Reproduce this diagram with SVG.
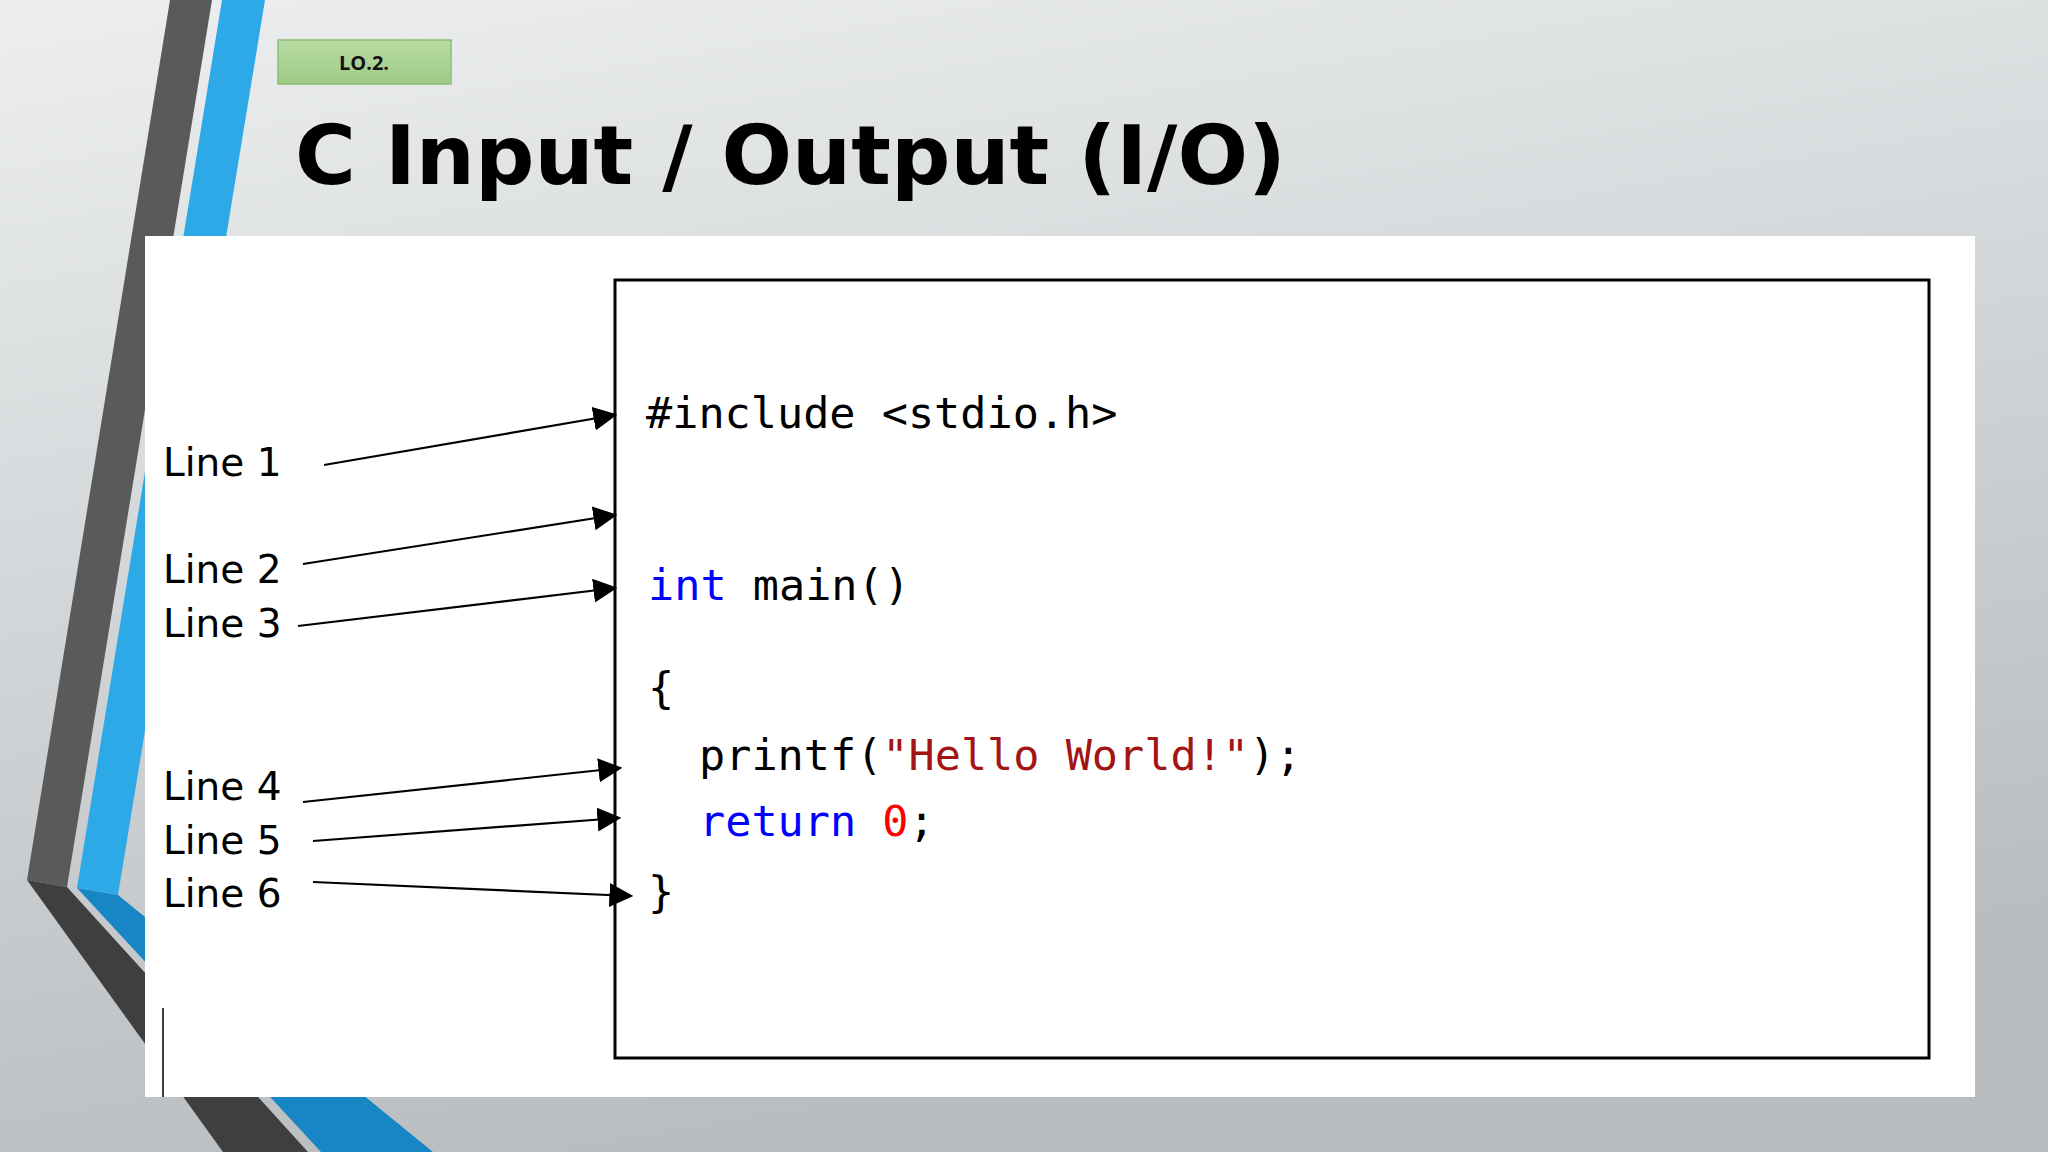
<svg xmlns="http://www.w3.org/2000/svg" width="2048" height="1152" viewBox="0 0 2048 1152">
<defs>
<linearGradient id="bg" x1="0" y1="0" x2="0.3" y2="1"><stop offset="0" stop-color="#eceeef"/><stop offset="1" stop-color="#b9bdc0"/></linearGradient>
<linearGradient id="gr" x1="0" y1="0" x2="0" y2="1"><stop offset="0" stop-color="#b9dba6"/><stop offset="1" stop-color="#9ecb86"/></linearGradient>
<marker id="ah" viewBox="0 0 10 10" refX="9" refY="5" markerWidth="24" markerHeight="24" markerUnits="userSpaceOnUse" orient="auto"><path d="M0,0 L10,5 L0,10 z" fill="#000"/></marker>
<style>
.lbl{font-family:"DejaVu Sans",sans-serif;font-size:39px;fill:#000}
.code{font-family:"DejaVu Sans Mono",monospace;font-size:43.5px;fill:#000;white-space:pre}
.kw{fill:#0000ff}.str{fill:#a31515}.num{fill:#ff0000}
.conn line{stroke:#000;stroke-width:2.2}
</style>
</defs>
<rect width="2048" height="1152" fill="url(#bg)"/>
<g id="decor">
<polygon points="170,0 212,0 67,887 27,880" fill="#5a5a5a"/>
<polygon points="27,880 67,887 308,1152 223,1152" fill="#3f3f3f"/>
<polygon points="222,0 265,0 118,895 77,888" fill="#2ea9e8"/>
<polygon points="77,888 118,895 433,1152 321,1152" fill="#1886c4"/>
</g>
<g id="tag"><rect x="278" y="40" width="173" height="44" fill="url(#gr)" stroke="#8cbf70" stroke-width="1.5"/>
<text x="364" y="70" text-anchor="middle" font-family="'Open Sans','DejaVu Sans',sans-serif" font-weight="bold" font-size="20" fill="#111">LO.2.</text></g>
<text id="title" x="295" y="184" font-family="'DejaVu Sans',sans-serif" font-weight="bold" font-size="82" textLength="991" lengthAdjust="spacingAndGlyphs" fill="#000">C Input / Output (I/O)</text>
<rect x="145" y="236" width="1830" height="861" fill="#fff"/>
<line x1="163" y1="1008" x2="163" y2="1097" stroke="#000" stroke-width="1.5"/>
<g id="codebox">
<rect x="615" y="280" width="1314" height="778" fill="#fff" stroke="#000" stroke-width="3"/>
<text class="code" x="646" y="428">#include &lt;stdio.h&gt;</text>
<text class="code" x="648" y="600"><tspan class="kw">int</tspan> main()</text>
<text class="code" x="648" y="703">{</text>
<text class="code" x="699" y="770">printf(<tspan class="str">"Hello World!"</tspan>);</text>
<text class="code" x="699" y="836"><tspan class="kw">return</tspan> <tspan class="num">0</tspan>;</text>
<text class="code" x="648" y="907">}</text>
</g>
<g id="labels">
<text class="lbl" x="163" y="476">Line 1</text>
<text class="lbl" x="163" y="583">Line 2</text>
<text class="lbl" x="163" y="637">Line 3</text>
<text class="lbl" x="163" y="800">Line 4</text>
<text class="lbl" x="163" y="854">Line 5</text>
<text class="lbl" x="163" y="907">Line 6</text>
</g>
<g id="connectors" class="conn">
<line x1="324" y1="465" x2="615" y2="415" marker-end="url(#ah)"/>
<line x1="303" y1="564" x2="615" y2="515" marker-end="url(#ah)"/>
<line x1="298" y1="626" x2="615" y2="588" marker-end="url(#ah)"/>
<line x1="303" y1="802" x2="620" y2="768" marker-end="url(#ah)"/>
<line x1="313" y1="841" x2="619" y2="818" marker-end="url(#ah)"/>
<line x1="313" y1="882" x2="631" y2="896" marker-end="url(#ah)"/>
</g>
</svg>
